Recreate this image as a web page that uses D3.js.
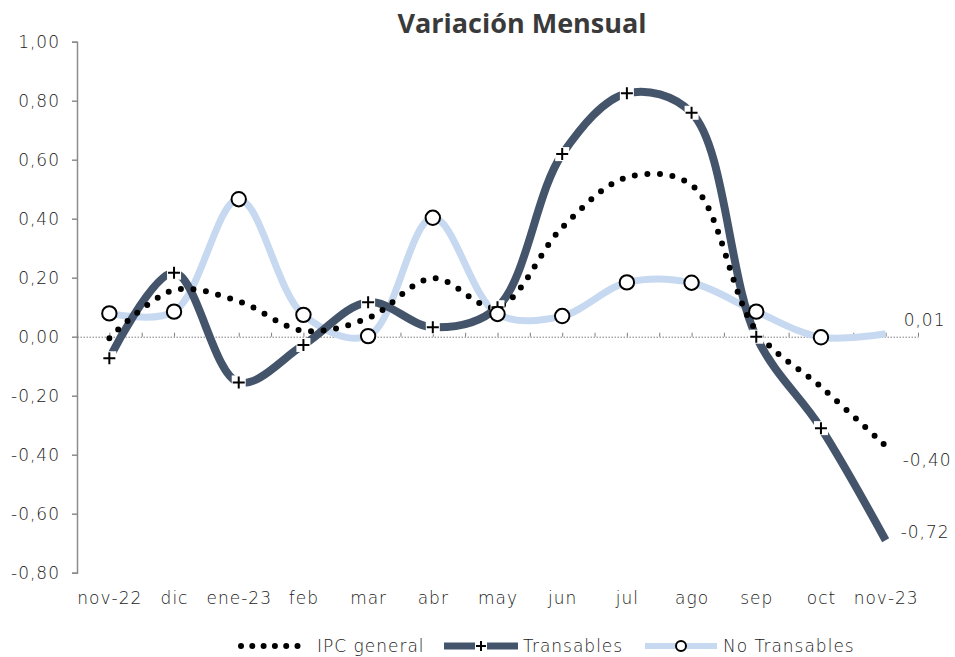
<!DOCTYPE html>
<html>
<head>
<meta charset="utf-8">
<script src="https://cdn.jsdelivr.net/npm/d3@7"></script>
<style>
  body { margin: 0; background: #fff; }
  text { font-family: "DejaVu Sans", "Open Sans", sans-serif; fill: #1a1a1a; font-weight: 200; letter-spacing: 1px; }
  .title { font-family: "Open Sans", sans-serif; font-weight: bold; font-size: 27px; fill: #3a3a3a; letter-spacing: 0; }
  .tick-label, .month-label, .legend-label, .end-label { font-size: 17px; }
</style>
</head>
<body>
<div id="chart"></div>
<script>
// Data
const months = ['nov-22', 'dic', 'ene-23', 'feb', 'mar', 'abr', 'may', 'jun', 'jul', 'ago', 'sep', 'oct', 'nov-23'];
const ipcGeneral = [-0.005, 0.158, 0.12, 0.02, 0.063, 0.198, 0.10, 0.37, 0.54, 0.514, 0.02, -0.17, -0.37];
const transables = [-0.073, 0.217, -0.155, -0.028, 0.117, 0.032, 0.10, 0.619, 0.825, 0.759, 0.0, -0.31, -0.69];
const noTransables = [0.079, 0.085, 0.466, 0.074, 0.002, 0.403, 0.077, 0.07, 0.184, 0.183, 0.085, -0.002, 0.01];
const yTicks = [-0.8, -0.6, -0.4, -0.2, 0, 0.2, 0.4, 0.6, 0.8, 1.0];
const endLabels = ['0,01', '-0,40', '-0,72'];
const legendNames = ['IPC general', 'Transables', 'No Transables'];

const W = 955, H = 657;
const colors = { ipc: '#000000', tr: '#44546a', nt: '#c6d9f0' };
const fmt = (v) => (Math.abs(v) < 1e-9 ? '0,00' : v.toFixed(2).replace('.', ','));

const svg = d3.select('#chart').append('svg')
  .attr('width', W)
  .attr('height', H)
  .attr('viewBox', `0 0 ${W} ${H}`);

const x = d3.scalePoint().domain(months).range([77, 918]).padding(0.5);
const y = d3.scaleLinear().domain([-0.8, 1.0]).range([572.7, 41.7]);

// Title
svg.append('text')
  .attr('class', 'title')
  .attr('x', 522)
  .attr('y', 33)
  .attr('text-anchor', 'middle')
  .text('Variación Mensual');

// Y axis
const gY = svg.append('g')
  .attr('transform', 'translate(77,0)')
  .call(d3.axisLeft(y).tickValues(yTicks).tickSize(5).tickPadding(12).tickFormat(fmt));
gY.select('.domain').attr('stroke', '#8c8c8c').attr('stroke-width', 1.5);
gY.selectAll('.tick line').attr('stroke', '#8c8c8c').attr('stroke-width', 1.5);
gY.selectAll('.tick text').attr('class', 'tick-label')
  .style('font-family', '"DejaVu Sans", "Open Sans", sans-serif').style('font-size', '17px');

// Zero line with half-step ticks
const xh = d3.scaleLinear().domain([0, months.length * 2]).range([77, 918]);
const gZ = svg.append('g')
  .attr('transform', `translate(0,${y(0)})`)
  .call(d3.axisTop(xh).ticks(months.length * 2).tickSize(4).tickSizeOuter(0).tickFormat(''));
gZ.select('.domain').attr('stroke', '#7f7f7f').attr('stroke-width', 1).attr('stroke-dasharray', '1.5,1.5');
gZ.selectAll('.tick line').attr('stroke', '#7f7f7f').attr('stroke-width', 1);

// Month labels
svg.append('g')
  .selectAll('text')
  .data(months)
  .join('text')
  .attr('class', 'month-label')
  .attr('x', (d) => x(d) + 0.5)
  .attr('y', 604)
  .attr('text-anchor', 'middle')
  .text((d) => d);

// Lines
const line = d3.line()
  .x((d, i) => x(months[i]))
  .y((d) => y(d))
  .curve(d3.curveCatmullRom.alpha(0.5));

svg.append('path')
  .datum(noTransables)
  .attr('d', line)
  .attr('fill', 'none')
  .attr('stroke', colors.nt)
  .attr('stroke-width', 7);

svg.append('path')
  .datum(transables)
  .attr('d', line)
  .attr('fill', 'none')
  .attr('stroke', colors.tr)
  .attr('stroke-width', 8);

svg.append('path')
  .datum(ipcGeneral)
  .attr('d', line)
  .attr('fill', 'none')
  .attr('stroke', colors.ipc)
  .attr('stroke-width', 6)
  .attr('stroke-linecap', 'round')
  .attr('stroke-dasharray', '0,12.6');

// Markers (none on the last month)
const drawPlus = (g, cx, cy, s) => {
  g.append('rect')
    .attr('x', cx - s / 2 - 1)
    .attr('y', cy - s / 2 - 1)
    .attr('width', s + 2)
    .attr('height', s + 2)
    .attr('fill', '#fff');
  g.append('path')
    .attr('d', `M${cx - s / 2},${cy}H${cx + s / 2}M${cx},${cy - s / 2}V${cy + s / 2}`)
    .attr('stroke', '#000')
    .attr('stroke-width', 2);
};
const gM = svg.append('g').attr('class', 'markers');
transables.slice(0, -1).forEach((v, i) => drawPlus(gM, x(months[i]), y(v), 12));
gM.selectAll('circle')
  .data(noTransables.slice(0, -1))
  .join('circle')
  .attr('cx', (d, i) => x(months[i]))
  .attr('cy', (d) => y(d))
  .attr('r', 7.2)
  .attr('fill', '#fff')
  .attr('stroke', '#000')
  .attr('stroke-width', 2);

// End labels
const last = months[months.length - 1];
const endSeries = [noTransables, ipcGeneral, transables];
const endDy = [-14, 14, -8];
const endDx = [18, 17, 15];
svg.append('g')
  .selectAll('text')
  .data(endLabels)
  .join('text')
  .attr('class', 'end-label')
  .attr('x', (d, i) => x(last) + endDx[i])
  .attr('y', (d, i) => y(endSeries[i][endSeries[i].length - 1]) + endDy[i])
  .attr('dy', '0.35em')
  .text((d) => d);

// Legend
const legendY = 646;
const gL = svg.append('g').attr('class', 'legend');
gL.append('line')
  .attr('x1', 241).attr('x2', 298)
  .attr('y1', legendY).attr('y2', legendY)
  .attr('stroke', '#000')
  .attr('stroke-width', 6)
  .attr('stroke-linecap', 'round')
  .attr('stroke-dasharray', '0,11.3');
gL.append('text').attr('class', 'legend-label').attr('x', 317).attr('y', legendY).attr('dy', '0.35em').text(legendNames[0]);

gL.append('line')
  .attr('x1', 444).attr('x2', 518)
  .attr('y1', legendY).attr('y2', legendY)
  .attr('stroke', colors.tr)
  .attr('stroke-width', 7);
drawPlus(gL, 481, legendY, 10);
gL.append('text').attr('class', 'legend-label').attr('x', 523).attr('y', legendY).attr('dy', '0.35em').text(legendNames[1]);

gL.append('line')
  .attr('x1', 645).attr('x2', 717)
  .attr('y1', legendY).attr('y2', legendY)
  .attr('stroke', colors.nt)
  .attr('stroke-width', 6);
gL.append('circle')
  .attr('cx', 681).attr('cy', legendY).attr('r', 5)
  .attr('fill', '#fff').attr('stroke', '#000').attr('stroke-width', 2);
gL.append('text').attr('class', 'legend-label').attr('x', 723).attr('y', legendY).attr('dy', '0.35em').text(legendNames[2]);
</script>
</body>
</html>
